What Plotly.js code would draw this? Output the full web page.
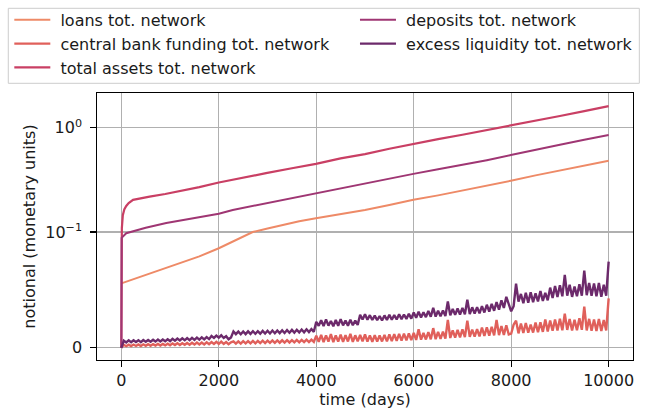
<!DOCTYPE html>
<html>
<head>
<meta charset="utf-8">
<script src="https://cdn.plot.ly/plotly-3.0.1.min.js"></script>
<style>html,body{margin:0;padding:0;background:#fff;}#chart{width:647px;height:410px;}</style>
</head>
<body>
<div id="chart"></div>
<script>
// ---------------- data ----------------
const seriesNames = ["loans tot. network", "central bank funding tot. network", "total assets tot. network", "deposits tot. network", "excess liquidity tot. network"];

const loansDays = [0, 300, 580, 900, 1262, 1600, 2000, 2350, 2696, 3000, 3310, 3650, 3993, 4500, 5000, 5500, 5993, 6500, 7000, 7500, 7993, 8500, 9000, 9500, 10000];
const loansVals = [0.0557, 0.060, 0.0644, 0.069, 0.0736, 0.079, 0.086, 0.093, 0.100, 0.108, 0.117, 0.127, 0.136, 0.148, 0.163, 0.182, 0.204, 0.225, 0.250, 0.280, 0.311, 0.350, 0.390, 0.435, 0.483];

const assetsDays = [0, 10, 30, 60, 100, 150, 240, 400, 580, 900, 1262, 1600, 2000, 2500, 2969, 3500, 3993, 4500, 5000, 5500, 6000, 6500, 7000, 7500, 8000, 8500, 9000, 9500, 10000];
const assetsVals = [0, 0.109, 0.145, 0.165, 0.178, 0.190, 0.204, 0.212, 0.219, 0.232, 0.249, 0.270, 0.299, 0.330, 0.368, 0.410, 0.452, 0.510, 0.560, 0.630, 0.705, 0.780, 0.860, 0.950, 1.050, 1.170, 1.300, 1.450, 1.620];

const depositsDays = [0, 5, 100, 238, 500, 922, 1500, 2000, 2286, 2969, 3500, 3993, 4676, 5300, 5993, 6500, 7000, 7500, 7993, 8500, 9000, 9500, 10000];
const depositsVals = [0, 0.095, 0.099, 0.102, 0.110, 0.122, 0.136, 0.150, 0.163, 0.189, 0.210, 0.237, 0.275, 0.310, 0.362, 0.400, 0.440, 0.490, 0.548, 0.620, 0.690, 0.770, 0.855];

const noisyDays = [0,50,100,150,200,250,300,350,400,450,500,550,600,650,700,750,800,850,900,950,
  1000,1050,1100,1150,1200,1250,1300,1350,1400,1450,1500,1550,1600,1650,1700,1750,1800,1850,1900,1950,
  2000,2050,2100,2150,2200,2250,2300,2350,2400,2450,2500,2550,2600,2650,2700,2750,2800,2850,2900,2950,
  3000,3050,3100,3150,3200,3250,3300,3350,3400,3450,3500,3550,3600,3650,3700,3750,3800,3850,3900,3950,
  4000,4050,4100,4150,4200,4250,4300,4350,4400,4450,4500,4550,4600,4650,4700,4750,4800,4850,4900,4950,
  5000,5050,5100,5150,5200,5250,5300,5350,5400,5450,5500,5550,5600,5650,5700,5750,5800,5850,5900,5950,
  6000,6050,6100,6150,6200,6250,6300,6350,6400,6450,6500,6550,6600,6650,6700,6750,6800,6850,6900,6950,
  7000,7050,7100,7150,7200,7250,7300,7350,7400,7450,7500,7550,7600,7650,7700,7750,7800,7850,7900,7950,
  8000,8050,8100,8150,8200,8250,8300,8350,8400,8450,8500,8550,8600,8650,8700,8750,8800,8850,8900,8950,
  9000,9050,9100,9150,9200,9250,9300,9350,9400,9450,9500,9550,9600,9650,9700,9750,9800,9850,9900,9950,
  10000];

const excessVals = [0.0,
  0.0062, 0.0046, 0.0064, 0.0048, 0.0065, 0.0050, 0.0066, 0.0049, 0.0067, 0.0052, 0.0068, 0.0053, 0.0070, 0.0054, 0.0071, 0.0055, 0.0072, 0.0057, 0.0073, 0.0058,
  0.0078, 0.0062, 0.0080, 0.0064, 0.0082, 0.0065, 0.0084, 0.0067, 0.0086, 0.0069, 0.0088, 0.0071, 0.0090, 0.0073, 0.0092, 0.0075,
  0.0102, 0.0086, 0.0106, 0.0088, 0.0108, 0.0085, 0.0100, 0.0074, 0.0090,
  0.0142, 0.0118, 0.0140, 0.0117, 0.0141, 0.0118, 0.0142, 0.0120, 0.0143, 0.0121, 0.0144, 0.0122, 0.0146, 0.0123, 0.0147, 0.0124, 0.0149, 0.0126, 0.0150, 0.0127, 0.0151, 0.0128, 0.0153, 0.0130, 0.0155, 0.0131, 0.0156, 0.0133, 0.0158, 0.0134, 0.0160, 0.0136, 0.0162, 0.0138,
  0.0225, 0.0190, 0.0238, 0.0188, 0.0245, 0.0192, 0.0232, 0.0186, 0.0240, 0.0190, 0.0248, 0.0194, 0.0236, 0.0190, 0.0242, 0.0195, 0.0235, 0.0198,
  0.0285, 0.0245, 0.0290, 0.0242, 0.0282, 0.0240, 0.0278, 0.0238, 0.0275, 0.0236, 0.0280, 0.0240, 0.0285, 0.0242, 0.0282, 0.0245, 0.0290, 0.0248, 0.0288, 0.0250, 0.0295, 0.0252,
  0.0305, 0.0260, 0.0312, 0.0262, 0.0308, 0.0265, 0.0318, 0.0268, 0.0345, 0.0270, 0.0320, 0.0272, 0.0322, 0.0275,
  0.0400, 0.0280, 0.0335, 0.0285, 0.0340, 0.0288, 0.0345, 0.0290, 0.0415, 0.0292, 0.0350, 0.0295, 0.0352, 0.0298,
  0.0360, 0.0305, 0.0372, 0.0312, 0.0380, 0.0320, 0.0395, 0.0330, 0.0410, 0.0345, 0.0440, 0.0380,
  0.0315, 0.0360, 0.0555, 0.0400,
  0.0465, 0.0385, 0.0475, 0.0390, 0.0480, 0.0395, 0.0470, 0.0400, 0.0490, 0.0405, 0.0475, 0.0410,
  0.0520, 0.0430, 0.0535, 0.0440, 0.0540, 0.0445, 0.0630, 0.0450, 0.0545, 0.0440, 0.0530, 0.0445, 0.0550, 0.0450,
  0.0666, 0.0455, 0.0560, 0.0450, 0.0555, 0.0445, 0.0560, 0.0440, 0.0545, 0.0450, 0.0744];

const cbfVals = [0.0,
  0.0026, 0.0014, 0.0027, 0.0015, 0.0028, 0.0016, 0.0029, 0.0016, 0.0030, 0.0017, 0.0031, 0.0018, 0.0032, 0.0019, 0.0033, 0.0020, 0.0034, 0.0021, 0.0035, 0.0022,
  0.0038, 0.0024, 0.0039, 0.0025, 0.0040, 0.0026, 0.0042, 0.0027, 0.0043, 0.0028, 0.0045, 0.0029, 0.0046, 0.0030, 0.0048, 0.0031,
  0.0050, 0.0033, 0.0052, 0.0034, 0.0053, 0.0034, 0.0050, 0.0032, 0.0048,
  0.0055, 0.0036, 0.0056, 0.0037, 0.0057, 0.0038, 0.0058, 0.0038, 0.0059, 0.0039, 0.0060, 0.0040, 0.0061, 0.0041, 0.0062, 0.0042, 0.0063, 0.0043, 0.0064, 0.0044, 0.0065, 0.0045, 0.0066, 0.0046, 0.0067, 0.0047, 0.0068, 0.0048, 0.0069, 0.0049, 0.0070, 0.0050, 0.0071, 0.0051,
  0.0105, 0.0052, 0.0112, 0.0050, 0.0108, 0.0054, 0.0118, 0.0050, 0.0106, 0.0053, 0.0114, 0.0051, 0.0110, 0.0055, 0.0120, 0.0052, 0.0108, 0.0056,
  0.0112, 0.0055, 0.0115, 0.0054, 0.0108, 0.0052, 0.0110, 0.0054, 0.0106, 0.0055, 0.0112, 0.0056, 0.0115, 0.0058, 0.0118, 0.0060, 0.0120, 0.0062, 0.0122, 0.0064, 0.0125, 0.0066,
  0.0130, 0.0068, 0.0160, 0.0070, 0.0128, 0.0072, 0.0135, 0.0073, 0.0170, 0.0075, 0.0138, 0.0078, 0.0140, 0.0080,
  0.0240, 0.0085, 0.0150, 0.0088, 0.0155, 0.0090, 0.0160, 0.0092, 0.0235, 0.0094, 0.0158, 0.0096, 0.0162, 0.0098,
  0.0175, 0.0102, 0.0178, 0.0105, 0.0182, 0.0108, 0.0240, 0.0110, 0.0188, 0.0112, 0.0195, 0.0115,
  0.0122, 0.0200, 0.0235, 0.0125,
  0.0210, 0.0128, 0.0215, 0.0130, 0.0200, 0.0132, 0.0218, 0.0135, 0.0220, 0.0138, 0.0245, 0.0140,
  0.0235, 0.0148, 0.0245, 0.0150, 0.0250, 0.0152, 0.0295, 0.0155, 0.0248, 0.0150, 0.0242, 0.0152, 0.0255, 0.0155,
  0.0355, 0.0150, 0.0250, 0.0148, 0.0245, 0.0146, 0.0250, 0.0145, 0.0240, 0.0150, 0.0427];

const xTickVals = [0, 2000, 4000, 6000, 8000, 10000];
const yTickVals = [0, 0.1, 1];
const yTickText = ["0", "10<sup>\u22121</sup>", "10<sup>0</sup>"];

const colors = ["#ee8a67", "#e0605b", "#c93f64", "#9f3673", "#6c2a6b"];

// ------------- symlog scale (linthresh 0.1, linscale 1, base 10) -------------
const LT = 0.1, LS = 1 / (1 - 1 / 10);
function symlog(v) {
  const a = Math.abs(v);
  const t = a <= LT ? (a / LT) * LS : LS + Math.log10(a / LT);
  return v < 0 ? -t : t;
}

function mk(days, vals, i, leg, w) {
  return {
    x: days, y: vals.map(symlog), type: "scatter", mode: "lines",
    name: "\u00a0" + seriesNames[i], legend: leg,
    line: {color: colors[i], width: w}
  };
}

const traces = [
  mk(loansDays, loansVals, 0, "legend", 2),
  mk(noisyDays, cbfVals, 1, "legend", 2.4),
  mk(assetsDays, assetsVals, 2, "legend", 2.2),
  mk(depositsDays, depositsVals, 3, "legend2", 2),
  mk(noisyDays, excessVals, 4, "legend2", 2.4)
];

const FF = "DejaVu Sans, sans-serif";
const font = {family: FF, size: 16, color: "#1a1a1a"};
const legFont = {family: FF, size: 16, color: "#1a1a1a"};

const layout = {
  width: 647, height: 410,
  margin: {l: 97, r: 14, t: 93, b: 50, autoexpand: false},
  paper_bgcolor: "#ffffff", plot_bgcolor: "#ffffff",
  font: font,
  showlegend: true,
  legend: {
    orientation: "v", x: -0.1636, y: 1.3374, xanchor: "left", yanchor: "top",
    itemwidth: 36, borderwidth: 0, bgcolor: "rgba(0,0,0,0)", traceorder: "normal",
    font: legFont
  },
  legend2: {
    orientation: "v", x: 0.4813, y: 1.3374, xanchor: "left", yanchor: "top",
    itemwidth: 36, borderwidth: 0, bgcolor: "rgba(0,0,0,0)", traceorder: "normal",
    font: legFont
  },
  shapes: [{
    type: "rect", xref: "paper", yref: "paper",
    x0: -0.1655, x1: 1.0118, y0: 1.0363, y1: 1.3172,
    line: {color: "#cccccc", width: 1}, fillcolor: "rgba(0,0,0,0)", layer: "above"
  }],
  xaxis: {
    range: [-500, 10500], tickvals: xTickVals, ticktext: xTickVals.map(String),
    showgrid: true, gridcolor: "#b0b0b0", gridwidth: 1.2,
    zeroline: false, showline: true, linecolor: "#000", linewidth: 1.2, mirror: true,
    ticks: "outside", ticklen: 5.5, tickwidth: 1.2, tickcolor: "#000",
    title: {text: "time (days)", font: font, standoff: 4}
  },
  yaxis: {
    range: [-0.117, 2.446], tickvals: yTickVals.map(symlog), ticktext: yTickText,
    showgrid: true, gridcolor: "#b0b0b0", gridwidth: 1.2,
    zeroline: false, showline: true, linecolor: "#000", linewidth: 1.2, mirror: true,
    ticks: "outside", ticklen: 5.5, tickwidth: 1.2, tickcolor: "#000",
    ticklabelstandoff: 5,
    title: {text: "notional (monetary units)", font: font, standoff: 5}
  }
};

Plotly.newPlot("chart", traces, layout, {staticPlot: true, displayModeBar: false});
</script>
</body>
</html>
